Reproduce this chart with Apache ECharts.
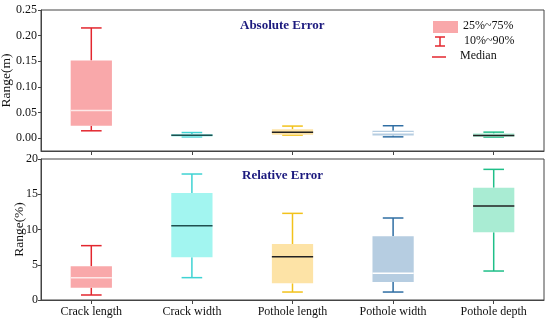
<!DOCTYPE html>
<html><head><meta charset="utf-8">
<script src="https://cdn.jsdelivr.net/npm/echarts@6/dist/echarts.min.js"></script>
<style>html,body{margin:0;padding:0;background:#fff}#c{width:550px;height:320px}</style>
</head><body><div id="c"></div>
<script>
const categories = ['Crack length','Crack width','Pothole length','Pothole width','Pothole depth'];
// [p10, q1, median, q3, p90]
const absError = [
  [0.0144, 0.0243, 0.0538, 0.1516, 0.2150],
  [0.0025, 0.0035, 0.0055, 0.0080, 0.0110],
  [0.0060, 0.0065, 0.0118, 0.0172, 0.0236],
  [0.0026, 0.0053, 0.0105, 0.0144, 0.0243],
  [0.0022, 0.0026, 0.0053, 0.0092, 0.0118]
];
const relError = [
  [0.71, 1.75, 3.17, 4.78, 7.71],
  [3.17, 6.05, 10.54, 15.18, 17.87],
  [1.13, 2.36, 6.15, 7.94, 12.29],
  [1.13, 2.55, 3.78, 9.03, 11.63],
  [4.11, 9.60, 13.33, 15.93, 18.53]
];
const absTicks = [0, 0.05, 0.10, 0.15, 0.20, 0.25];
const relTicks = [0, 5, 10, 15, 20];
const whiskerColors = ['#e3262e','#3fd3d3','#f2c21b','#2f6ea3','#1fbf88'];
const fillColors = ['#f9a8aa','#a2f5f0','#fde3a6','#b6cde1','#a9ecd3'];
const medianColors = ['#fde8e8','#1f4f4f','#222222','#ffffff','#222222'];

const FONT = '"Liberation Serif","Times New Roman",serif';
const chart = echarts.init(document.getElementById('c'), null, {renderer:'canvas'});

function renderBox(params, api) {
  const i = api.value(0);
  const lo = api.coord([i, api.value(1)]);
  const q1 = api.coord([i, api.value(2)]);
  const md = api.coord([i, api.value(3)]);
  const q3 = api.coord([i, api.value(4)]);
  const hi = api.coord([i, api.value(5)]);
  const band = api.size([1, 0])[0];
  const bw = band * 0.41;
  const cw = bw * 0.5;
  const x = lo[0];
  const wc = whiskerColors[i];
  const lw = 1.5;
  return {
    type: 'group',
    children: [
      {type:'line', shape:{x1:x, y1:hi[1], x2:x, y2:q3[1]}, style:{stroke:wc, lineWidth:lw}},
      {type:'line', shape:{x1:x, y1:q1[1], x2:x, y2:lo[1]}, style:{stroke:wc, lineWidth:lw}},
      {type:'line', shape:{x1:x-cw/2, y1:hi[1], x2:x+cw/2, y2:hi[1]}, style:{stroke:wc, lineWidth:lw}},
      {type:'line', shape:{x1:x-cw/2, y1:lo[1], x2:x+cw/2, y2:lo[1]}, style:{stroke:wc, lineWidth:lw}},
      {type:'rect', shape:{x:x-bw/2, y:q3[1], width:bw, height:q1[1]-q3[1]}, style:{fill:fillColors[i], stroke:null}},
      {type:'line', shape:{x1:x-bw/2, y1:md[1], x2:x+bw/2, y2:md[1]}, style:{stroke:medianColors[i], lineWidth:1.5}}
    ]
  };
}

function toData(arr) { return arr.map((r, i) => [i].concat(r)); }

const axisLine = {show:true, onZero:false, lineStyle:{color:'#444', width:1}};
const axisLabel = {color:'#111', fontFamily:FONT, fontSize:12};

chart.setOption({
  animation:false,
  backgroundColor:'#fff',
  grid:[
    {left:41, right:6, top:10, height:141, containLabel:false, outerBoundsMode:'none', show:true, borderColor:'#444', borderWidth:1, backgroundColor:'transparent'},
    {left:41, right:6, top:159, height:141, containLabel:false, outerBoundsMode:'none', show:true, borderColor:'#444', borderWidth:1, backgroundColor:'transparent'}
  ],
  xAxis:[
    {type:'category', gridIndex:0, data:categories, boundaryGap:true, axisLine:axisLine,
     axisTick:{show:true, alignWithLabel:true, inside:false, length:4, lineStyle:{color:'#444'}},
     axisLabel:{show:false}, splitLine:{show:false}},
    {type:'category', gridIndex:1, data:categories, boundaryGap:true, axisLine:axisLine,
     axisTick:{show:true, alignWithLabel:true, inside:false, length:4, lineStyle:{color:'#444'}},
     axisLabel:Object.assign({margin:6}, axisLabel), splitLine:{show:false}}
  ],
  yAxis:[
    {type:'value', gridIndex:0, min:-0.025, max:0.25, name:'Range(m)', nameLocation:'middle', nameGap:28, nameMoveOverlap:false,
     nameTextStyle:{fontFamily:FONT, fontSize:13.5, color:'#111'},
     axisLine:axisLine, axisTick:{show:true, length:3, lineStyle:{color:'#444'}, customValues:absTicks},
     axisLabel:Object.assign({margin:4, customValues:absTicks, formatter:v=>v.toFixed(2)}, axisLabel),
     splitLine:{show:false}},
    {type:'value', gridIndex:1, min:0, max:20, interval:5, name:'Range(%)', nameLocation:'middle', nameGap:15, nameMoveOverlap:false,
     nameTextStyle:{fontFamily:FONT, fontSize:13.5, color:'#111'},
     axisLine:axisLine, axisTick:{show:true, length:3, lineStyle:{color:'#444'}},
     axisLabel:Object.assign({margin:3}, axisLabel),
     splitLine:{show:false}}
  ],
  graphic:[
    {type:'text', left:240, top:19, style:{text:'Absolute Error', font:'bold 13px '+FONT, fill:'#1c1a7e'}},
    {type:'text', left:242, top:169, style:{text:'Relative Error', font:'bold 13px '+FONT, fill:'#1c1a7e'}},
    {type:'rect', shape:{x:433, y:21, width:25, height:12}, style:{fill:'#f9a8aa'}},
    {type:'text', left:463, top:20, style:{text:'25%~75%', font:'12px '+FONT, fill:'#111'}},
    {type:'line', shape:{x1:440, y1:37, x2:440, y2:46}, style:{stroke:'#e3262e', lineWidth:1.5}},
    {type:'line', shape:{x1:435, y1:37, x2:445, y2:37}, style:{stroke:'#e3262e', lineWidth:1.5}},
    {type:'line', shape:{x1:435, y1:46, x2:445, y2:46}, style:{stroke:'#e3262e', lineWidth:1.5}},
    {type:'text', left:464, top:35, style:{text:'10%~90%', font:'12px '+FONT, fill:'#111'}},
    {type:'line', shape:{x1:432, y1:57, x2:446, y2:57}, style:{stroke:'#e3262e', lineWidth:1.5}},
    {type:'text', left:460, top:50, style:{text:'Median', font:'12px '+FONT, fill:'#111'}}
  ],
  series:[
    {type:'custom', xAxisIndex:0, yAxisIndex:0, renderItem:renderBox, data:toData(absError), encode:{x:0, y:[1,2,3,4,5]}},
    {type:'custom', xAxisIndex:1, yAxisIndex:1, renderItem:renderBox, data:toData(relError), encode:{x:0, y:[1,2,3,4,5]}}
  ]
});
</script></body></html>
